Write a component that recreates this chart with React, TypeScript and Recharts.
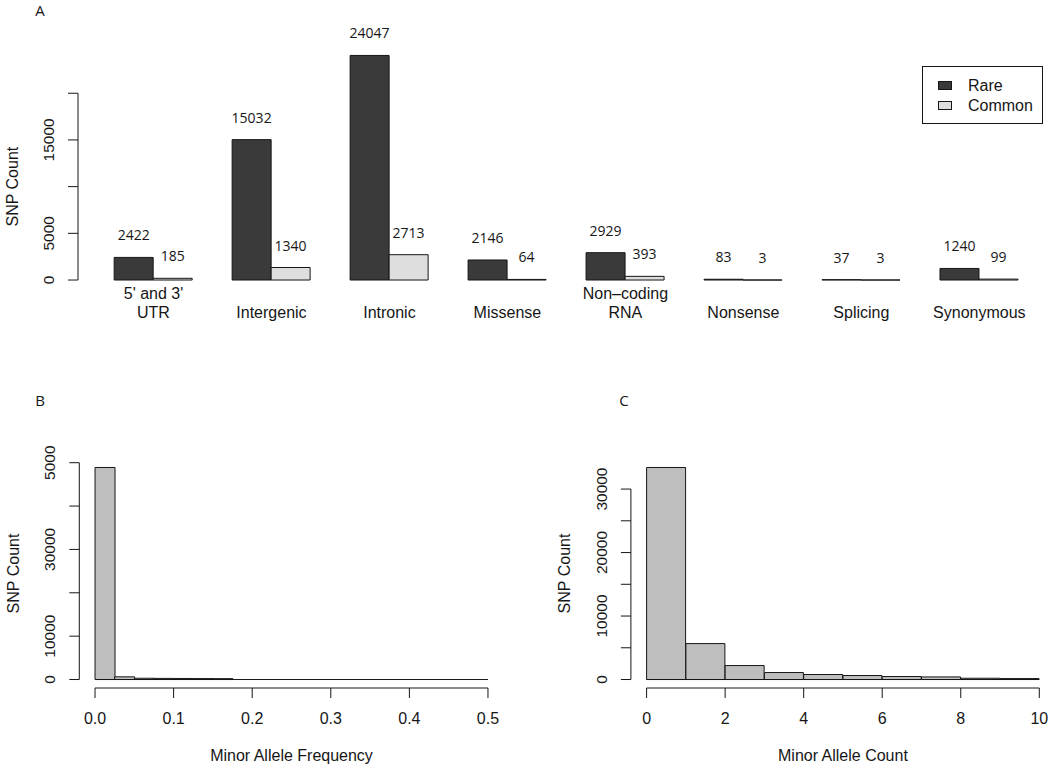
import React from 'react';
import { BarChart, Bar, XAxis, YAxis, ReferenceLine, LabelList, Legend } from 'recharts';

// Panel A: SNP counts by functional class
const categories = ["5' and 3'\nUTR", 'Intergenic', 'Intronic', 'Missense', 'Non\u2013coding\nRNA', 'Nonsense', 'Splicing', 'Synonymous'];
const rareCounts = [2422, 15032, 24047, 2146, 2929, 83, 37, 1240];
const commonCounts = [185, 1340, 2713, 64, 393, 3, 3, 99];
const countTicksA = [0, 5000, 10000, 15000, 20000];
const countLabelsA = ['0', '5000', '', '15000', ''];

// Panel B: minor allele frequency histogram
const mafBreaks = [0, 0.025, 0.05, 0.075, 0.1, 0.125, 0.15, 0.175, 0.2, 0.225, 0.25, 0.275, 0.3, 0.325, 0.35, 0.375, 0.4, 0.425, 0.45, 0.475, 0.5];
const mafCounts = [48900, 620, 290, 260, 240, 220, 200, 0, 0, 0, 0, 0, 0, 0, 0, 0, 0, 0, 0, 0];
const mafTicks = [0, 0.1, 0.2, 0.3, 0.4, 0.5];
const countTicksB = [0, 10000, 20000, 30000, 40000, 50000];
const countLabelsB = ['0', '10000', '', '30000', '', '5000'];

// Panel C: minor allele count histogram
const macBreaks = [0, 1, 2, 3, 4, 5, 6, 7, 8, 9, 10];
const macCounts = [33400, 5660, 2200, 1100, 790, 630, 470, 410, 200, 150];
const macTicks = [0, 2, 4, 6, 8, 10];
const countTicksC = [0, 5000, 10000, 15000, 20000, 25000, 30000];
const countLabelsC = ['0', '', '10000', '', '20000', '', '30000'];

const seriesOrder = ['rare', 'common'];

const INK = '#161616';
const RARE_FILL = '#3a3a3a';
const COMMON_FILL = '#dedede';
const HIST_FILL = '#bebebe';
const AXIS_FONT = '"Liberation Sans", Arial, sans-serif';
const NUM_FONT = '"Open Sans", sans-serif';

// R pads each axis range by 4% on both sides
const extend = (lo: number, hi: number): [number, number] => {
  const d = (hi - lo) * 0.04;
  return [lo - d, hi + d];
};

function CountTick(props: any) {
  const { x, y, payload, ticks, labels } = props;
  const text = labels[ticks.indexOf(payload.value)];
  if (!text) return <g />;
  return (
    <text
      transform={`translate(${x - 14},${y}) rotate(-90)`}
      textAnchor="middle"
      fontFamily={AXIS_FONT}
      fontSize={15.5}
      fill={INK}
    >
      {text}
    </text>
  );
}

function ValueTick(props: any) {
  const { x, y, payload, format } = props;
  return (
    <text x={x} y={y + 26} textAnchor="middle" fontFamily={AXIS_FONT} fontSize={16} fill={INK}>
      {format(payload.value)}
    </text>
  );
}

function CategoryTick(props: any) {
  const { x, y, payload } = props;
  const lines = String(payload.value).split('\n');
  return (
    <text textAnchor="middle" fontFamily={AXIS_FONT} fontSize={16} fill={INK}>
      {lines.map((line, i) => (
        <tspan key={i} x={x} y={y + 30 - (lines.length - 1 - i) * 18.3}>
          {line}
        </tspan>
      ))}
    </text>
  );
}

function YTitle(props: any) {
  const { viewBox, domain, centerValue } = props;
  if (!viewBox) return null;
  const { x, y, width, height } = viewBox;
  const cy = y + (height * (domain[1] - centerValue)) / (domain[1] - domain[0]);
  const bx = x + width - 60.5;
  return (
    <text
      transform={`translate(${bx},${cy}) rotate(-90)`}
      textAnchor="middle"
      fontFamily={AXIS_FONT}
      fontSize={16}
      fill={INK}
    >
      SNP Count
    </text>
  );
}

function XTitle(props: any) {
  const { viewBox, text } = props;
  if (!viewBox) return null;
  const { x, y, width } = viewBox;
  return (
    <text x={x + width / 2} y={y + 73} textAnchor="middle" fontFamily={AXIS_FONT} fontSize={16} fill={INK}>
      {text}
    </text>
  );
}

function ValueLabel(props: any) {
  const { x, y, width, value } = props;
  return (
    <text x={x + width / 2} y={y - 17} textAnchor="middle" fontFamily={NUM_FONT} fontSize={14} fill={INK}>
      {value}
    </text>
  );
}

const seriesFill: Record<string, string> = { rare: RARE_FILL, common: COMMON_FILL };

function LegendBox({ payload }: any) {
  const items = [...(payload || [])].sort(
    (a: any, b: any) => seriesOrder.indexOf(a.dataKey) - seriesOrder.indexOf(b.dataKey)
  );
  return (
    <div
      style={{
        position: 'relative',
        width: 119,
        height: 56,
        border: `1px solid ${INK}`,
        background: '#fff',
        fontFamily: AXIS_FONT,
        fontSize: 16,
        color: INK,
      }}
    >
      {items.map((p: any, i: number) => (
        <div key={p.value} style={{ position: 'absolute', left: 0, top: 9 + i * 19.5, height: 19, width: 119 }}>
          <span
            style={{
              position: 'absolute',
              left: 15,
              top: 5,
              width: 12,
              height: 7,
              border: `1px solid ${INK}`,
              background: seriesFill[p.dataKey] ?? p.color,
            }}
          />
          <span style={{ position: 'absolute', left: 45, top: 0, lineHeight: '19px' }}>{p.value}</span>
        </div>
      ))}
    </div>
  );
}

function FunctionalClassChart() {
  const rows = categories.map((category, i) => ({
    category,
    rare: rareCounts[i],
    common: commonCounts[i],
  }));
  const yDomain: [number, number] = [extend(0, 20000)[0], 26000];

  return (
    <BarChart
      width={1050}
      height={330}
      data={rows}
      margin={{ top: 37.2, right: 11.7, bottom: 2.5, left: 0 }}
      barGap={0}
      barCategoryGap="16.667%"
    >
      <XAxis
        dataKey="category"
        axisLine={false}
        tickLine={false}
        tickSize={0}
        tickMargin={0}
        interval={0}
        height={40}
        padding={{ left: 16.5, right: 0 }}
        tick={<CategoryTick />}
      />
      <XAxis xAxisId="num" type="number" domain={[0, 1]} allowDataOverflow hide height={0} />
      <YAxis
        type="number"
        domain={yDomain}
        ticks={countTicksA}
        interval={0}
        width={78}
        axisLine={false}
        tickSize={10}
        tickMargin={0}
        stroke={INK}
        tick={(p: any) => <CountTick {...p} ticks={countTicksA} labels={countLabelsA} />}
        label={<YTitle domain={yDomain} centerValue={10000} />}
      />
      <ReferenceLine
        xAxisId="num"
        segment={[
          { x: 0, y: countTicksA[0] },
          { x: 0, y: countTicksA[countTicksA.length - 1] },
        ]}
        stroke={INK}
        ifOverflow="visible"
      />
      <Legend
        layout="horizontal"
        verticalAlign="middle"
        align="center"
        wrapperStyle={{ left: 922, top: 66, width: 121, height: 58 }}
        content={<LegendBox />}
      />
      <Bar dataKey="rare" name="Rare" fill={RARE_FILL} stroke={INK} strokeWidth={1} isAnimationActive={false}>
        <LabelList dataKey="rare" content={<ValueLabel />} />
      </Bar>
      <Bar dataKey="common" name="Common" fill={COMMON_FILL} stroke={INK} strokeWidth={1} isAnimationActive={false}>
        <LabelList dataKey="common" content={<ValueLabel />} />
      </Bar>
    </BarChart>
  );
}

interface HistogramProps {
  breaks: number[];
  counts: number[];
  ticks: number[];
  format: (v: number) => string;
  countTicks: number[];
  countLabels: string[];
  xTitle: string;
  yAxisWidth: number;
  marginRight: number;
}

function Histogram({ breaks, counts, ticks, format, countTicks, countLabels, xTitle, yAxisWidth, marginRight }: HistogramProps) {
  const width = 520;
  const rows = counts.map((count, i) => ({
    bin: `${breaks[i]}-${breaks[i + 1]}`,
    mid: (breaks[i] + breaks[i + 1]) / 2,
    count,
  }));
  const xDomain = extend(breaks[0], breaks[breaks.length - 1]);
  const yDomain = extend(0, Math.max(...counts));
  const plotWidth = width - marginRight - yAxisWidth;
  const pad = (plotWidth * (breaks[0] - xDomain[0])) / (xDomain[1] - xDomain[0]);

  return (
    <BarChart
      width={width}
      height={385}
      data={rows}
      margin={{ top: 79, right: marginRight, bottom: 2, left: 0 }}
      barGap={0}
      barCategoryGap={0}
    >
      <XAxis
        xAxisId="val"
        dataKey="mid"
        type="number"
        domain={xDomain}
        allowDataOverflow
        ticks={ticks}
        interval={0}
        axisLine={false}
        tickSize={10}
        tickMargin={0}
        stroke={INK}
        height={75}
        tick={(p: any) => <ValueTick {...p} format={format} />}
        label={<XTitle text={xTitle} />}
      />
      <XAxis xAxisId="bins" dataKey="bin" hide height={0} padding={{ left: pad, right: pad }} />
      <YAxis
        type="number"
        domain={yDomain}
        allowDataOverflow
        ticks={countTicks}
        interval={0}
        width={yAxisWidth}
        axisLine={false}
        tickSize={10}
        tickMargin={0}
        stroke={INK}
        tick={(p: any) => <CountTick {...p} ticks={countTicks} labels={countLabels} />}
        label={<YTitle domain={yDomain} centerValue={(yDomain[0] + yDomain[1]) / 2} />}
      />
      <ReferenceLine
        xAxisId="val"
        segment={[
          { x: xDomain[0], y: countTicks[0] },
          { x: xDomain[0], y: countTicks[countTicks.length - 1] },
        ]}
        stroke={INK}
        ifOverflow="visible"
      />
      <ReferenceLine
        xAxisId="val"
        segment={[
          { x: ticks[0], y: yDomain[0] },
          { x: ticks[ticks.length - 1], y: yDomain[0] },
        ]}
        stroke={INK}
        ifOverflow="visible"
      />
      <ReferenceLine
        xAxisId="val"
        segment={[
          { x: breaks[0], y: 0 },
          { x: breaks[breaks.length - 1], y: 0 },
        ]}
        stroke={INK}
        ifOverflow="visible"
      />
      <Bar xAxisId="bins" dataKey="count" fill={HIST_FILL} stroke={INK} strokeWidth={1} isAnimationActive={false} />
    </BarChart>
  );
}

export default function App() {
  return (
    <div
      style={{
        position: 'absolute',
        left: 0,
        top: 0,
        width: 1050,
        height: 765,
        overflow: 'hidden',
        background: '#fff',
      }}
    >
      <div style={{ position: 'absolute', left: 0, top: 0 }}>
        <FunctionalClassChart />
      </div>
      <div style={{ position: 'absolute', left: 0, top: 380 }}>
        <Histogram
          breaks={mafBreaks}
          counts={mafCounts}
          ticks={mafTicks}
          format={(v) => v.toFixed(1)}
          countTicks={countTicksB}
          countLabels={countLabelsB}
          xTitle="Minor Allele Frequency"
          yAxisWidth={79.3}
          marginRight={16.3}
        />
      </div>
      <div style={{ position: 'absolute', left: 540, top: 380 }}>
        <Histogram
          breaks={macBreaks}
          counts={macCounts}
          ticks={macTicks}
          format={(v) => String(v)}
          countTicks={countTicksC}
          countLabels={countLabelsC}
          xTitle="Minor Allele Count"
          yAxisWidth={90.9}
          marginRight={5}
        />
      </div>
      <svg width={1050} height={765} style={{ position: 'absolute', left: 0, top: 0, pointerEvents: 'none' }}>
        <g fontFamily={NUM_FONT} fontSize={15} fill={INK} textAnchor="middle">
          <text x={40} y={16}>A</text>
          <text x={40} y={406}>B</text>
          <text x={624} y={406}>C</text>
        </g>
      </svg>
    </div>
  );
}
